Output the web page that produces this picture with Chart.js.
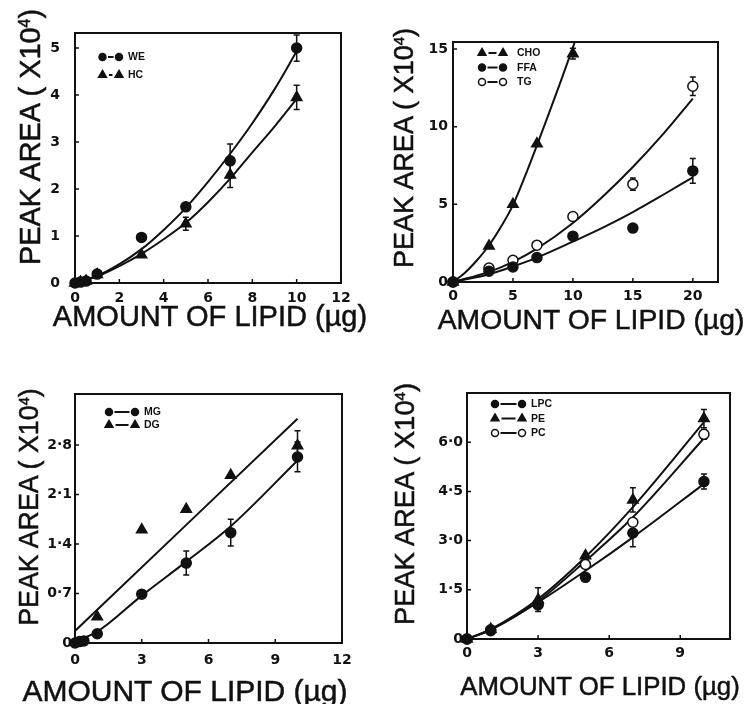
<!DOCTYPE html>
<html>
<head>
<meta charset="utf-8">
<script src="https://cdn.jsdelivr.net/npm/chart.js@4.4.1/dist/chart.umd.min.js"></script>
<style>
  html, body { margin: 0; padding: 0; background: #fff; }
  #page { position: relative; width: 747px; height: 704px; overflow: hidden; }
  canvas { position: absolute; }
  .ttl {
    position: absolute; white-space: nowrap; line-height: 1; color: #111;
    font-family: 'Liberation Sans', Arial, sans-serif;
    -webkit-text-stroke: 0.5px #111;
    transform: translate(-50%, -50%);
  }
  .ttl.rot { transform: translate(-50%, -50%) rotate(-90deg); }
  .ttl .sup { position: relative; top: -0.6em; font-size: 0.55em; }
</style>
</head>
<body>
<div id="page">
  <canvas id="p1" width="373" height="350" style="left:0;top:0"></canvas>
  <canvas id="p2" width="374" height="350" style="left:373px;top:0"></canvas>
  <canvas id="p3" width="373" height="354" style="left:0;top:350px"></canvas>
  <canvas id="p4" width="374" height="354" style="left:373px;top:350px"></canvas>

  <div class="ttl rot" style="left:30px;top:137px;font-size:28.9px">PEAK AREA ( X10<span class="sup">4</span>)</div>
  <div class="ttl rot" style="left:404px;top:148px;font-size:27.1px">PEAK AREA ( X10<span class="sup">4</span>)</div>
  <div class="ttl rot" style="left:29px;top:507px;font-size:26.8px">PEAK AREA ( X10<span class="sup">4</span>)</div>
  <div class="ttl rot" style="left:405px;top:504px;font-size:27.3px">PEAK AREA ( X10<span class="sup">4</span>)</div>

  <div class="ttl" style="left:210px;top:316px;font-size:29px">AMOUNT OF LIPID (µg)</div>
  <div class="ttl" style="left:591px;top:319px;font-size:28.3px">AMOUNT OF LIPID (µg)</div>
  <div class="ttl" style="left:185px;top:691px;font-size:30px">AMOUNT OF LIPID (µg)</div>
  <div class="ttl" style="left:600px;top:687px;font-size:25.8px">AMOUNT OF LIPID (µg)</div>
</div>

<script>
const INK = '#111';

// panel 1: WE / HC
const p1Names = ['WE', 'HC'];
const p1X = [0, 0.25, 0.5, 1, 3, 5, 7, 10];
const weY = [0, 0.02, 0.04, 0.19, 0.97, 1.62, 2.6, 5.0];
const weErr = [0, 0, 0, 0, 0, 0, 0.36, 0.28];
const hcY = [0, 0.02, 0.04, 0.18, 0.6, 1.26, 2.3, 3.95];
const hcErr = [0, 0, 0, 0, 0, 0.14, 0.27, 0.26];
const p1FitX = [0, 1, 2, 3, 4, 5, 6, 7, 8, 9, 10];
const weFit = [0, 0.15, 0.4, 0.72, 1.13, 1.6, 2.15, 2.75, 3.4, 4.12, 4.93];
const hcFit = [0, 0.14, 0.36, 0.62, 0.93, 1.28, 1.72, 2.22, 2.78, 3.33, 3.92];
const p1XTicks = [0, 2, 4, 6, 8, 10, 12];
const p1YTicks = [0, 1, 2, 3, 4, 5];
const p1YLabels = ['0', '1', '2', '3', '4', '5'];

// panel 2: CHO / FFA / TG
const p2Names = ['CHO', 'FFA', 'TG'];
const choX = [0, 3, 5, 7, 10];
const choY = [0, 2.32, 5.0, 8.9, 14.7];
const choErr = [0, 0, 0, 0, 0.35];
const p2X = [0, 3, 5, 7, 10, 15, 20];
const ffaY = [0, 0.7, 0.97, 1.57, 2.95, 3.47, 7.15];
const ffaErr = [0, 0, 0, 0, 0, 0, 0.8];
const tgY = [0, 0.9, 1.4, 2.37, 4.22, 6.3, 12.6];
const tgErr = [0, 0, 0, 0, 0, 0.4, 0.6];
const choFitX = [0, 1, 2, 3, 4, 5, 6, 7, 8, 9, 10, 10.2];
const choFit = [0, 0.6, 1.4, 2.35, 3.55, 4.95, 6.8, 8.8, 10.85, 12.95, 15.1, 15.55];
const p2FitX = [0, 3, 5, 7, 10, 12.5, 15, 17.5, 20];
const tgFit = [0, 0.65, 1.3, 2.15, 3.8, 5.5, 7.4, 9.5, 11.8];
const ffaFit = [0, 0.5, 1.0, 1.57, 2.6, 3.5, 4.5, 5.6, 6.74];
const p2XTicks = [0, 5, 10, 15, 20];
const p2YTicks = [0, 5, 10, 15];
const p2YLabels = ['0', '5', '10', '15'];

// panel 3: MG / DG
const p3Names = ['MG', 'DG'];
const mgX = [0, 0.2, 0.4, 1, 3, 5, 7, 10];
const mgY = [0, 0.02, 0.03, 0.13, 0.69, 1.13, 1.56, 2.63];
const mgErr = [0, 0, 0, 0, 0, 0.17, 0.19, 0.21];
const dgX = [1, 3, 5, 7, 10];
const dgY = [0.37, 1.6, 1.89, 2.37, 2.79];
const dgErr = [0, 0, 0, 0, 0.21];
const mgFitX = [0, 1, 3, 5, 7, 10];
const mgFit = [0.02, 0.16, 0.67, 1.15, 1.65, 2.58];
const dgFitX = [0, 5, 10];
const dgFit = [0.17, 1.67, 3.17];
const p3XTicks = [0, 3, 6, 9, 12];
const p3YTicks = [0, 0.7, 1.4, 2.1, 2.8];
const p3YLabels = ['0', '0·7', '1·4', '2·1', '2·8'];

// panel 4: LPC / PE / PC
const p4Names = ['LPC', 'PE', 'PC'];
const p4X = [0, 1, 3, 5, 7, 10];
const lpcY = [0, 0.25, 1.04, 1.88, 3.23, 4.8];
const lpcErr = [0, 0, 0, 0, 0.42, 0.23];
const peY = [0, 0.3, 1.2, 2.54, 4.24, 6.72];
const peErr = [0, 0, 0.36, 0, 0.37, 0.28];
const pcY = [0, 0.28, 1.07, 2.27, 3.56, 6.24];
const pcErr = [0, 0, 0, 0, 0, 0.15];
const lpcFit = [0, 0.28, 1.12, 2.08, 3.1, 4.73];
const peFit = [0, 0.3, 1.22, 2.5, 4.02, 6.61];
const pcFit = [0, 0.28, 1.15, 2.38, 3.71, 6.12];
const p4XTicks = [0, 3, 6, 9];
const p4YTicks = [0, 1.5, 3, 4.5, 6];
const p4YLabels = ['0', '1·5', '3·0', '4·5', '6·0'];

const TICK_FONT = { family: 'DejaVu Sans', size: 14, weight: 'bold' };
const LEGEND_FONT = 'bold 10.5px "Liberation Sans Narrow", "Liberation Sans", sans-serif';

const pts = (xs, ys) => xs.map((x, i) => ({ x, y: ys[i] }));

function fitLine(xs, ys) {
  return {
    data: pts(xs, ys), showLine: true, pointRadius: 0, borderColor: INK,
    borderWidth: 2, cubicInterpolationMode: 'monotone', order: 1,
  };
}

function markers(xs, ys, style, fill) {
  return {
    data: pts(xs, ys), showLine: false, pointStyle: style,
    pointRadius: style === 'triangle' ? 6 : 5, pointHoverRadius: 5,
    pointBackgroundColor: fill, pointBorderColor: INK, pointBorderWidth: 1.5,
    clip: false, order: 0,
  };
}

function drawMark(ctx, style, fill, x, y, r) {
  ctx.beginPath();
  if (style === 'triangle') {
    ctx.moveTo(x, y - r);
    ctx.lineTo(x + r * 0.87, y + r * 0.5);
    ctx.lineTo(x - r * 0.87, y + r * 0.5);
    ctx.closePath();
  } else {
    ctx.arc(x, y, r, 0, Math.PI * 2);
  }
  ctx.fillStyle = fill;
  ctx.fill();
  ctx.stroke();
}

// frame, inward ticks, error bars and the small key
function makeDecor(cfg) {
  return {
    id: 'decor',
    beforeDatasetsDraw(chart) {
      const { ctx, scales: { x, y } } = chart;
      ctx.save();
      ctx.strokeStyle = INK;
      ctx.lineWidth = 1.5;
      cfg.errors.forEach(([xs, ys, errs]) => {
        xs.forEach((xv, i) => {
          if (!errs[i]) return;
          const px = x.getPixelForValue(xv);
          const top = y.getPixelForValue(ys[i] + errs[i]);
          const bot = y.getPixelForValue(ys[i] - errs[i]);
          ctx.beginPath();
          ctx.moveTo(px, top); ctx.lineTo(px, bot);
          ctx.moveTo(px - 3, top); ctx.lineTo(px + 3, top);
          ctx.moveTo(px - 3, bot); ctx.lineTo(px + 3, bot);
          ctx.stroke();
        });
      });
      ctx.restore();
    },
    afterDraw(chart) {
      const { ctx, chartArea: a, scales: { x, y } } = chart;
      ctx.save();
      ctx.strokeStyle = INK;
      ctx.lineWidth = 2;
      ctx.strokeRect(a.left, a.top, a.right - a.left, a.bottom - a.top);

      ctx.lineWidth = 1.5;
      ctx.beginPath();
      x.ticks.forEach((t) => {
        const px = x.getPixelForValue(t.value);
        ctx.moveTo(px, a.bottom); ctx.lineTo(px, a.bottom - 4);
      });
      y.ticks.forEach((t) => {
        const py = y.getPixelForValue(t.value);
        ctx.moveTo(a.left, py); ctx.lineTo(a.left + 4, py);
      });
      ctx.stroke();

      const k = cfg.key;
      ctx.font = LEGEND_FONT;
      ctx.textBaseline = 'middle';
      k.names.forEach((name, i) => {
        const cy = a.top + k.dy + i * k.gap;
        const x1 = a.left + k.dx1;
        const x2 = a.left + k.dx2;
        const [style, fill] = k.marks[i];
        const r = style === 'triangle' ? 4.5 : 3.5;
        ctx.lineWidth = 2;
        ctx.beginPath();
        ctx.moveTo(x1 + r + 2, cy); ctx.lineTo(x2 - r - 2, cy);
        ctx.stroke();
        ctx.lineWidth = 1.5;
        drawMark(ctx, style, fill, x1, cy, r);
        drawMark(ctx, style, fill, x2, cy, r);
        ctx.fillStyle = INK;
        ctx.fillText(name, a.left + k.tx, cy + 0.5);
      });
      ctx.restore();
    },
  };
}

function makePanel(id, cfg) {
  new Chart(document.getElementById(id), {
    type: 'line',
    data: { datasets: cfg.datasets },
    options: {
      responsive: false,
      animation: false,
      events: [],
      layout: { padding: { left: 0, top: cfg.top, right: cfg.right, bottom: 0 } },
      plugins: { legend: { display: false }, tooltip: { enabled: false } },
      scales: {
        x: {
          type: 'linear', min: 0, max: cfg.xMax,
          grid: { display: false, drawTicks: false }, border: { display: false },
          ticks: { font: TICK_FONT, color: INK, padding: cfg.xPad, maxRotation: 0, autoSkip: false },
          afterBuildTicks: (s) => { s.ticks = cfg.xTicks.map((v) => ({ value: v })); },
          afterFit: (s) => { s.height = cfg.bottom; },
        },
        y: {
          type: 'linear', min: 0, max: cfg.yMax,
          grid: { display: false, drawTicks: false }, border: { display: false },
          ticks: {
            font: TICK_FONT, color: INK, padding: cfg.yPad, autoSkip: false,
            callback: (v) => cfg.yLabels[cfg.yTicks.indexOf(v)],
          },
          afterBuildTicks: (s) => { s.ticks = cfg.yTicks.map((v) => ({ value: v })); },
          afterFit: (s) => { s.width = cfg.left; },
        },
      },
    },
    plugins: [makeDecor(cfg)],
  });
}

makePanel('p1', {
  left: 75, top: 33, right: 32, bottom: 67, xMax: 12, yMax: 5.32, xPad: 7, yPad: 15,
  xTicks: p1XTicks, yTicks: p1YTicks, yLabels: p1YLabels,
  datasets: [
    markers(p1X, weY, 'circle', INK),
    markers(p1X, hcY, 'triangle', INK),
    fitLine(p1FitX, weFit),
    fitLine(p1FitX, hcFit),
  ],
  errors: [[p1X, weY, weErr], [p1X, hcY, hcErr]],
  key: { names: p1Names, marks: [['circle', INK], ['triangle', INK]], dx1: 27.5, dx2: 44, tx: 53, dy: 24, gap: 18 },
});

makePanel('p2', {
  left: 80, top: 42, right: 29, bottom: 68, xMax: 22.1, yMax: 15.45, xPad: 6, yPad: 5,
  xTicks: p2XTicks, yTicks: p2YTicks, yLabels: p2YLabels,
  datasets: [
    markers(choX, choY, 'triangle', INK),
    markers(p2X, ffaY, 'circle', INK),
    markers(p2X, tgY, 'circle', '#fff'),
    fitLine(choFitX, choFit),
    fitLine(p2FitX, tgFit),
    fitLine(p2FitX, ffaFit),
  ],
  errors: [[choX, choY, choErr], [p2X, ffaY, ffaErr], [p2X, tgY, tgErr]],
  key: { names: p2Names, marks: [['triangle', INK], ['circle', INK], ['circle', '#fff']], dx1: 29, dx2: 50, tx: 64, dy: 11, gap: 14.5 },
});

makePanel('p3', {
  left: 75, top: 44, right: 31, bottom: 61, xMax: 12, yMax: 3.52, xPad: 9, yPad: 3,
  xTicks: p3XTicks, yTicks: p3YTicks, yLabels: p3YLabels,
  datasets: [
    markers(mgX, mgY, 'circle', INK),
    markers(dgX, dgY, 'triangle', INK),
    fitLine(mgFitX, mgFit),
    fitLine(dgFitX, dgFit),
  ],
  errors: [[mgX, mgY, mgErr], [dgX, dgY, dgErr]],
  key: { names: p3Names, marks: [['circle', INK], ['triangle', INK]], dx1: 34, dx2: 60, tx: 69, dy: 18, gap: 13 },
});

makePanel('p4', {
  left: 94, top: 43, right: 17, bottom: 65, xMax: 11.1, yMax: 7.5, xPad: 6, yPad: 4,
  xTicks: p4XTicks, yTicks: p4YTicks, yLabels: p4YLabels,
  datasets: [
    markers(p4X, lpcY, 'circle', INK),
    markers(p4X, peY, 'triangle', INK),
    markers(p4X, pcY, 'circle', '#fff'),
    fitLine(p4X, peFit),
    fitLine(p4X, pcFit),
    fitLine(p4X, lpcFit),
  ],
  errors: [[p4X, lpcY, lpcErr], [p4X, peY, peErr], [p4X, pcY, pcErr]],
  key: { names: p4Names, marks: [['circle', INK], ['triangle', INK], ['circle', '#fff']], dx1: 28, dx2: 55, tx: 64, dy: 11, gap: 14.5 },
});
</script>
</body>
</html>
